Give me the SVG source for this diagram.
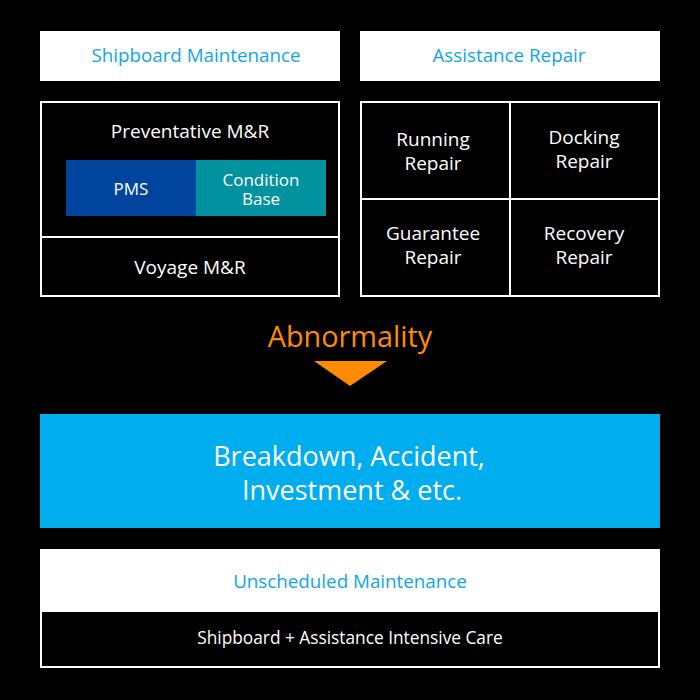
<svg xmlns="http://www.w3.org/2000/svg" width="700" height="700" viewBox="0 0 700 700">
<style>
text{font-family:"Open Sans","Noto Sans","DejaVu Sans",sans-serif;text-anchor:middle;dominant-baseline:central}
.hdr{fill:#fff}
.hdrt{fill:#10a5ea;font-size:18.8px}
.box{fill:#000;stroke:#fff;stroke-width:2}
.lbl{fill:#fff;font-size:19px}
.ln{stroke:#fff;stroke-width:2}
</style>
<rect width="700" height="700" fill="#000"/>
<g id="shipboard-header">
<rect class="hdr" x="40" y="31" width="300" height="50"/>
<text class="hdrt" x="196" y="55">Shipboard Maintenance</text>
</g>
<g id="assistance-header">
<rect class="hdr" x="360" y="31" width="300" height="50"/>
<text class="hdrt" x="509" y="55">Assistance Repair</text>
</g>
<g id="preventative">
<rect class="box" x="41" y="102" width="298" height="135"/>
<text class="lbl" x="190" y="131">Preventative M&amp;R</text>
</g>
<g id="pms">
<rect x="66" y="160" width="130" height="56" fill="#00449e"/>
<text class="lbl" x="131" y="188" style="font-size:17px">PMS</text>
</g>
<g id="condition-base">
<rect x="196" y="160" width="130" height="56" fill="#00929f"/>
<text class="lbl" x="261" y="179" style="font-size:17px">Condition</text>
<text class="lbl" x="261" y="198" style="font-size:17px">Base</text>
</g>
<g id="voyage">
<rect class="box" x="41" y="237" width="298" height="59"/>
<text class="lbl" x="190" y="267">Voyage M&amp;R</text>
</g>
<g id="running-repair">
<rect class="box" x="361" y="102" width="149" height="97"/>
<text class="lbl" x="433" y="139">Running</text>
<text class="lbl" x="433" y="163">Repair</text>
</g>
<g id="docking-repair">
<rect class="box" x="510" y="102" width="149" height="97"/>
<text class="lbl" x="584" y="137">Docking</text>
<text class="lbl" x="584" y="161">Repair</text>
</g>
<g id="guarantee-repair">
<rect class="box" x="361" y="199" width="149" height="97"/>
<text class="lbl" x="433" y="233">Guarantee</text>
<text class="lbl" x="433" y="257">Repair</text>
</g>
<g id="recovery-repair">
<rect class="box" x="510" y="199" width="149" height="97"/>
<text class="lbl" x="584" y="233">Recovery</text>
<text class="lbl" x="584" y="257">Repair</text>
</g>
<g id="abnormality">
<text x="350" y="335" style="fill:#ff8c00;font-size:28.8px">Abnormality</text>
</g>
<g id="connectors">
<polygon points="314,361 387,361 350,386" fill="#ff8c00"/>
</g>
<g id="breakdown">
<rect x="40" y="414" width="620" height="114" fill="#00adee"/>
<text class="lbl" x="349" y="455" style="font-size:27px">Breakdown, Accident,</text>
<text class="lbl" x="352" y="489" style="font-size:27px">Investment &amp; etc.</text>
</g>
<g id="unscheduled">
<rect class="hdr" x="40" y="549" width="620" height="62"/>
<text class="hdrt" x="350" y="581">Unscheduled Maintenance</text>
</g>
<g id="intensive-care">
<rect class="box" x="41" y="611" width="618" height="56"/>
<text class="lbl" x="350" y="637" style="font-size:17.3px">Shipboard + Assistance Intensive Care</text>
</g>
</svg>
